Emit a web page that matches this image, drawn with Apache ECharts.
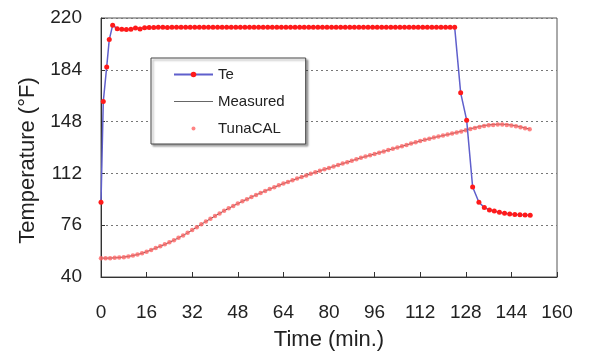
<!DOCTYPE html>
<html>
<head>
<meta charset="utf-8">
<script src="https://cdn.jsdelivr.net/npm/echarts@6/dist/echarts.min.js"></script>
<style>
  html, body { margin: 0; padding: 0; background: #fff; }
  #main { width: 592px; height: 358px; }
</style>
</head>
<body>
<div id="main"></div>
<script>
// axis ticks
const xTicks = [0, 16, 32, 48, 64, 80, 96, 112, 128, 144, 160];
const yTicks = [40, 76, 112, 148, 184, 220];

// Te (set-point / environment temperature)
const teTime = [
  0, 0.8, 2.0, 2.9, 4.1,
  5.7, 7.3, 8.9, 10.5, 12.1, 13.7, 15.3, 16.9, 18.5, 20.1, 21.7, 23.3, 24.9, 26.5, 28.1,
  29.7, 31.3, 32.9, 34.5, 36.1, 37.7, 39.3, 40.9, 42.5, 44.1, 45.7, 47.3, 48.9, 50.5,
  52.1, 53.7, 55.3, 56.9, 58.5, 60.1, 61.7, 63.3, 64.9, 66.5, 68.1, 69.7, 71.3, 72.9,
  74.5, 76.1, 77.7, 79.3, 80.9, 82.5, 84.1, 85.7, 87.3, 88.9, 90.5, 92.1, 93.7, 95.3,
  96.9, 98.5, 100.1, 101.7, 103.3, 104.9, 106.5, 108.1, 109.7, 111.3, 112.9, 114.5,
  116.1, 117.7, 119.3, 120.9, 122.5, 124.1,
  126.2, 128.3, 130.4, 132.6, 134.5, 136.3, 138.0, 139.8, 141.6, 143.4, 145.2, 147.0, 148.8, 150.6
];
const teVals = [
  92, 162, 186, 205, 215,
  212.6, 212.2, 212.0, 212.2, 213.0, 212.4, 213.2, 213.4, 213.4, 213.5, 213.5, 213.4, 213.5, 213.5, 213.5,
  213.5, 213.5, 213.5, 213.5, 213.5, 213.5, 213.5, 213.5, 213.5, 213.5, 213.5, 213.5, 213.5, 213.5,
  213.5, 213.5, 213.5, 213.5, 213.5, 213.5, 213.5, 213.5, 213.5, 213.5, 213.5, 213.5, 213.5, 213.5,
  213.5, 213.5, 213.5, 213.5, 213.5, 213.5, 213.5, 213.5, 213.5, 213.5, 213.5, 213.5, 213.5, 213.5,
  213.5, 213.5, 213.5, 213.5, 213.5, 213.5, 213.5, 213.5, 213.5, 213.5, 213.5, 213.5,
  213.5, 213.5, 213.5, 213.5, 213.5, 213.5,
  168, 149, 102.5, 92, 88.3, 86.6, 85.8, 85.0, 84.3, 83.8, 83.4, 83.2, 83.1, 83.0
];

// product temperature: measured and TunaCAL prediction
const curveTime = [
  0, 1.6, 3.2, 4.8, 6.4, 8.0, 9.6, 11.2, 12.8, 14.4, 16.0, 17.6, 19.2, 20.8, 22.4, 24.0,
  25.6, 27.2, 28.8, 30.4, 32.0, 33.6, 35.2, 36.8, 38.4, 40.0, 41.6, 43.2, 44.8, 46.4, 48.0,
  49.6, 51.2, 52.8, 54.4, 56.0, 57.6, 59.2, 60.8, 62.4, 64.0, 65.6, 67.2, 68.8, 70.4, 72.0,
  73.6, 75.2, 76.8, 78.4, 80.0, 81.6, 83.2, 84.8, 86.4, 88.0, 89.6, 91.2, 92.8, 94.4, 96.0,
  97.6, 99.2, 100.8, 102.4, 104.0, 105.6, 107.2, 108.8, 110.4, 112.0, 113.6, 115.2, 116.8,
  118.4, 120.0, 121.6, 123.2, 124.8, 126.4, 128.0, 129.6, 131.2, 132.8, 134.4, 136.0, 137.6,
  139.2, 140.8, 142.4, 144.0, 145.6, 147.2, 148.8, 150.4
];
const measuredVals = [
  53.2, 53.1, 53.2, 53.3, 53.5, 53.9, 54.3, 54.9, 55.6, 56.5, 57.6, 58.8, 60.1, 61.4, 62.7, 64.1,
  65.6, 67.2, 68.9, 70.7, 72.6, 74.6, 76.6, 78.6, 80.5, 82.4, 84.2, 86.0, 87.7, 89.4, 91.0,
  92.6, 94.1, 95.6, 97.0, 98.4, 99.8, 101.1, 102.4, 103.7, 104.9, 106.1, 107.3, 108.4, 109.5, 110.6,
  111.7, 112.8, 113.8, 114.8, 115.8, 116.8, 117.8, 118.8, 119.8, 120.8, 121.8, 122.8, 123.7, 124.6, 125.5,
  126.4, 127.3, 128.2, 129.1, 130.0, 130.9, 131.8, 132.7, 133.6, 134.5, 135.3, 136.1, 136.9,
  137.6, 138.3, 139.0, 139.7, 140.5, 141.3, 142.2, 143.0, 143.8, 144.6, 145.2, 145.7, 146.0,
  146.2, 146.2, 146.0, 145.6, 145.1, 144.4, 143.6, 142.8
];
const tunaVals = [
  53.0, 53.0, 53.1, 53.3, 53.5, 53.8, 54.3, 54.9, 55.6, 56.5, 57.6, 58.8, 60.1, 61.4, 62.7, 64.1,
  65.6, 67.2, 68.9, 70.7, 72.6, 74.6, 76.6, 78.6, 80.5, 82.4, 84.2, 86.0, 87.7, 89.4, 91.0,
  92.6, 94.1, 95.6, 97.0, 98.4, 99.8, 101.1, 102.4, 103.7, 104.9, 106.1, 107.3, 108.4, 109.5, 110.6,
  111.7, 112.8, 113.8, 114.8, 115.8, 116.8, 117.8, 118.8, 119.8, 120.8, 121.8, 122.8, 123.7, 124.6, 125.5,
  126.4, 127.3, 128.2, 129.1, 130.0, 130.9, 131.8, 132.7, 133.6, 134.5, 135.3, 136.1, 136.9,
  137.6, 138.3, 139.0, 139.7, 140.4, 141.2, 142.0, 142.8, 143.6, 144.3, 144.9, 145.4, 145.7,
  145.9, 145.9, 145.7, 145.3, 144.8, 144.1, 143.4, 142.6
];

const pair = (xs, ys) => xs.map((x, i) => [x, ys[i]]);

const chart = echarts.init(document.getElementById('main'), null, {renderer: 'canvas'});
const font = 'Arial, "Liberation Sans", sans-serif';

// legend icons: a plain thin line for Measured, a small dot for TunaCAL
const thinLine = 'path://M0,0 M39,7 M0,3 L39,3 L39,4 L0,4 Z';
const smallDot = 'path://M0,0 M12,12 M2.6,6 A3.4,3.4 0 1 1 9.4,6 A3.4,3.4 0 1 1 2.6,6 Z';

chart.setOption({
  animation: false,
  backgroundColor: '#fff',
  textStyle: {fontFamily: font},
  grid: {
    left: 101, right: 35, top: 18, bottom: 81,
    show: true, borderColor: '#555', borderWidth: 1
  },
  legend: {
    orient: 'vertical',
    left: 151, top: 58,
    padding: [9, 21, 8, 22],
    itemWidth: 39, itemHeight: 7, itemGap: 12,
    backgroundColor: '#fff',
    borderColor: '#444', borderWidth: 1,
    shadowColor: 'rgba(0,0,0,0.35)', shadowOffsetX: 2, shadowOffsetY: 2, shadowBlur: 2,
    textStyle: {fontSize: 15, color: '#222', fontFamily: font},
    data: [
      {name: 'Te'},
      {name: 'Measured', icon: thinLine, itemStyle: {color: '#666'}},
      {name: 'TunaCAL', icon: smallDot}
    ]
  },
  xAxis: {
    type: 'value', min: xTicks[0], max: xTicks[xTicks.length - 1], interval: 16,
    name: 'Time (min.)', nameLocation: 'middle', nameGap: 52,
    nameTextStyle: {fontSize: 22, color: '#222', fontFamily: font},
    axisLine: {lineStyle: {color: '#333'}},
    axisTick: {inside: true, length: 5, lineStyle: {color: '#333'}},
    axisLabel: {fontSize: 19, color: '#222', margin: 26, fontFamily: font},
    splitLine: {show: false}
  },
  yAxis: {
    type: 'value', min: yTicks[0], max: yTicks[yTicks.length - 1], interval: 36,
    name: 'Temperature (°F)', nameLocation: 'middle', nameGap: 62,
    nameTextStyle: {fontSize: 22, color: '#222', fontFamily: font, padding: [0, 26, 0, 0]},
    axisLine: {show: true, lineStyle: {color: '#333'}},
    axisTick: {show: true, inside: true, length: 4, lineStyle: {color: '#333'}},
    axisLabel: {fontSize: 19, color: '#222', margin: 19, fontFamily: font},
    splitLine: {show: true, lineStyle: {color: '#777', type: [2, 3], width: 1}}
  },
  series: [
    {
      name: 'Te', type: 'line',
      data: pair(teTime, teVals),
      symbol: 'circle', symbolSize: 5, showSymbol: true,
      lineStyle: {color: '#5f5fcc', width: 1.5},
      itemStyle: {color: '#ff1a1a'},
      z: 4
    },
    {
      name: 'Measured', type: 'line',
      data: pair(curveTime, measuredVals),
      symbol: 'none',
      lineStyle: {color: '#555', width: 1},
      itemStyle: {color: '#555'},
      z: 2
    },
    {
      name: 'TunaCAL', type: 'scatter',
      data: pair(curveTime, tunaVals),
      symbol: 'circle', symbolSize: 4.5,
      itemStyle: {color: '#ff6464', opacity: 0.8},
      z: 3
    }
  ]
});
</script>
</body>
</html>
